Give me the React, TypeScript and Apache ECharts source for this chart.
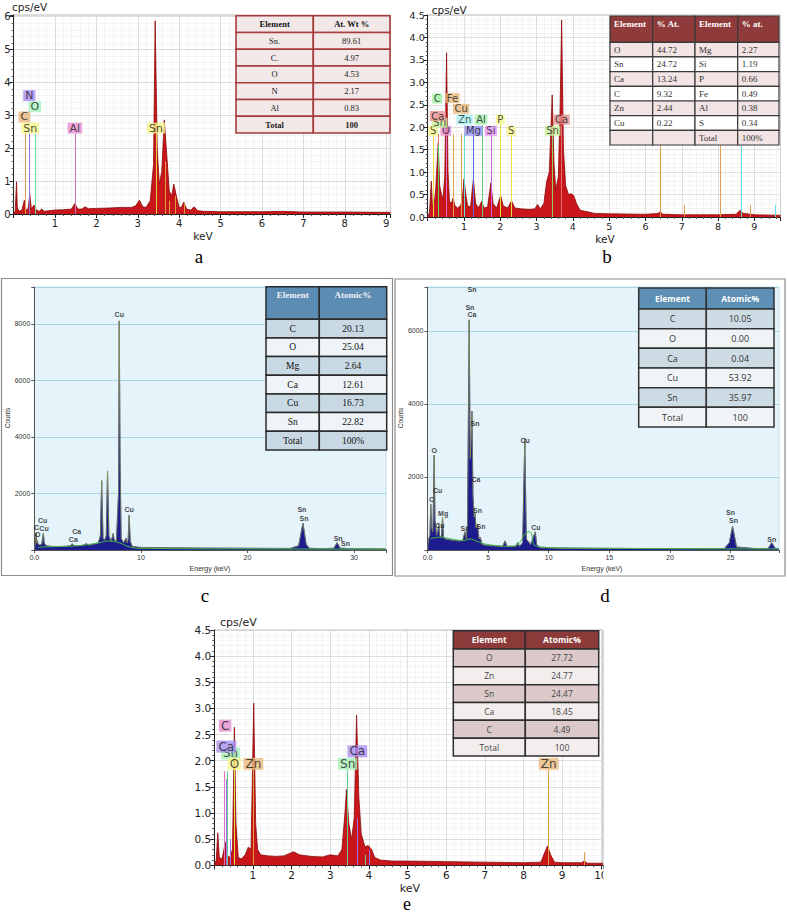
import React, { useEffect, useRef } from 'react';
import * as echarts from 'echarts';

// ---------------- Panel a (cps/eV vs keV) ----------------
const specA: [number, number][] = [
  [0, 0], [0.04, 0.1], [0.07, 0.98], [0.09, 0.2], [0.13, 0.08], [0.2, 0.12], [0.26, 0.42], [0.3, 0.12],
  [0.35, 0.15], [0.39, 0.6], [0.43, 0.15], [0.49, 0.27], [0.55, 0.12], [0.62, 0.08], [0.68, 0.15], [0.74, 0.08],
  [0.85, 0.1], [1.0, 0.12], [1.2, 0.13], [1.4, 0.15], [1.48, 0.32], [1.55, 0.15], [1.65, 0.15], [1.73, 0.22],
  [1.8, 0.16], [2.0, 0.17], [2.3, 0.18], [2.6, 0.2], [2.85, 0.2], [2.95, 0.25], [3.04, 0.42], [3.12, 0.22],
  [3.2, 0.2], [3.3, 0.4], [3.38, 1.5], [3.42, 5.87], [3.47, 2.0], [3.52, 0.9], [3.58, 1.3], [3.64, 2.86],
  [3.7, 1.8], [3.76, 0.7], [3.82, 0.55], [3.87, 0.91], [3.94, 0.5], [4.0, 0.2], [4.05, 0.2], [4.11, 0.36],
  [4.18, 0.15], [4.28, 0.12], [4.36, 0.22], [4.45, 0.1], [4.6, 0.08], [5.0, 0.07], [6.0, 0.07], [6.5, 0.08],
  [7.0, 0.06], [8.0, 0.06], [9.1, 0.05],
];
const markA: [string, number, number][] = [
  ['C', 0.27, 2.45], ['N', 0.39, 2.45], ['O', 0.52, 2.45], ['Al', 1.49, 2.45], ['Sn', 3.44, 2.45],
  ['SnL', 3.66, 1.6], ['SnL', 3.75, 0.4], ['SnL', 3.9, 0.55], ['SnL', 4.13, 0.3],
];
const labelsA: [string, number, number][] = [
  ['N', 0.38, 3.6], ['O', 0.51, 3.26], ['C', 0.26, 2.95], ['Sn', 0.4, 2.61], ['Al', 1.48, 2.61], ['Sn', 3.44, 2.61],
];
const tableAHeader = ['Element', 'At. Wt %'];
const tableAElements = ['Sn.', 'C.', 'O', 'N', 'Al', 'Total'];
const tableAValues = ['89.61', '4.97', '4.53', '2.17', '0.83', '100'];

// ---------------- Panel b ----------------
const specB: [number, number][] = [
  [0, 0], [0.05, 0.1], [0.1, 0.8], [0.13, 0.25], [0.18, 0.3], [0.22, 0.6], [0.26, 1.2], [0.29, 1.65],
  [0.33, 0.7], [0.38, 0.5], [0.42, 0.4], [0.47, 0.9], [0.52, 3.66], [0.56, 1.0], [0.6, 0.35], [0.65, 0.3],
  [0.7, 0.42], [0.75, 0.25], [0.82, 0.2], [0.9, 0.25], [0.95, 0.35], [1.0, 0.85], [1.05, 0.5], [1.1, 0.25],
  [1.18, 0.22], [1.26, 0.85], [1.32, 0.3], [1.4, 0.2], [1.49, 0.35], [1.55, 0.2], [1.65, 0.22], [1.74, 0.76],
  [1.8, 0.3], [1.9, 0.2], [2.01, 0.48], [2.08, 0.25], [2.2, 0.2], [2.31, 0.36], [2.4, 0.2], [2.6, 0.18],
  [2.8, 0.17], [2.95, 0.18], [3.03, 0.28], [3.1, 0.18], [3.2, 0.3], [3.28, 0.8], [3.35, 1.0], [3.43, 2.72],
  [3.48, 1.2], [3.53, 0.6], [3.6, 0.9], [3.65, 2.5], [3.69, 4.39], [3.74, 1.5], [3.8, 0.7], [3.88, 0.5],
  [3.95, 0.52], [4.02, 0.48], [4.1, 0.3], [4.2, 0.15], [4.38, 0.12], [4.6, 0.08], [5.0, 0.07], [6.0, 0.06],
  [6.35, 0.08], [6.4, 0.12], [6.48, 0.06], [7.0, 0.05], [8.0, 0.05], [8.5, 0.06], [8.6, 0.15], [8.7, 0.08],
  [9.0, 0.05], [9.72, 0.04],
];
const markB: [string, number, number][] = [
  ['S', 0.15, 1.85], ['Ca', 0.3, 1.85], ['C', 0.28, 1.6], ['O', 0.52, 1.85], ['Fe', 0.71, 1.85],
  ['Cu', 0.93, 1.85], ['Zn', 1.01, 1.85], ['Mg', 1.25, 1.85], ['Al', 1.49, 2.05], ['Si', 1.74, 1.85],
  ['P', 2.01, 2.05], ['S', 2.31, 1.85], ['Sn', 3.44, 1.85], ['Ca', 3.69, 2.05], ['Fe', 6.4, 1.9],
  ['Fe', 7.06, 0.27], ['Cu', 8.05, 1.9], ['Zn', 8.63, 1.9], ['Cu', 8.9, 0.27], ['Zn', 9.57, 0.27],
];
const labelsB: [string, number, number][] = [
  ['S', 0.15, 1.92], ['O', 0.5, 1.92], ['Sn', 0.33, 2.1], ['Ca', 0.28, 2.25], ['C', 0.26, 2.64],
  ['Fe', 0.68, 2.65], ['Cu', 0.92, 2.41], ['Zn', 1.02, 2.17], ['Al', 1.47, 2.17], ['P', 2.0, 2.17],
  ['Mg', 1.26, 1.92], ['Si', 1.74, 1.92], ['S', 2.3, 1.92], ['Sn', 3.44, 1.92], ['Ca', 3.69, 2.17],
];
const tableBHeader = ['Element', '% At.', 'Element', '% at.'];
const tableBElements1 = ['O', 'Sn', 'Ca', 'C', 'Zn', 'Cu', ''];
const tableBValues1 = ['44.72', '24.72', '13.24', '9.32', '2.44', '0.22', ''];
const tableBElements2 = ['Mg', 'Si', 'P', 'Fe', 'Al', 'S', 'Total'];
const tableBValues2 = ['2.27', '1.19', '0.66', '0.49', '0.38', '0.34', '100%'];

// ---------------- Panel c (Counts vs Energy) ----------------
const specC: [number, number][] = [
  [0, 0], [0.1, 200], [0.16, 600], [0.22, 250], [0.28, 350], [0.35, 200], [0.5, 180], [0.7, 200],
  [0.85, 600], [0.93, 250], [1.1, 150], [1.5, 130], [2.0, 120], [3.0, 130], [3.4, 150], [3.55, 220],
  [3.7, 160], [4.0, 150], [4.5, 160], [4.9, 220], [5.1, 170], [5.5, 200], [6.0, 250], [6.2, 500],
  [6.32, 2450], [6.45, 400], [6.6, 350], [6.75, 500], [6.87, 2780], [7.0, 500], [7.2, 300], [7.4, 580],
  [7.5, 350], [7.7, 300], [7.9, 2000], [7.97, 8100], [8.05, 3000], [8.15, 400], [8.4, 250], [8.6, 420],
  [8.7, 250], [8.8, 350], [8.9, 1230], [9.0, 300], [9.2, 120], [10, 90], [12, 80], [15, 70], [20, 60],
  [24, 55], [24.8, 150], [25.2, 950], [25.5, 200], [25.8, 60], [27, 50], [28.1, 60], [28.4, 260],
  [28.7, 60], [29.1, 60], [29.2, 40], [30, 40], [33, 35],
];
const bkgC: [number, number][] = [
  [0.3, 60], [0.5, 100], [2, 120], [4, 150], [6, 250], [7, 320], [8, 250], [9, 100], [10, 60], [20, 40], [33, 30],
];
const labelsC: [string, number, number][] = [
  ['Cu', 7.97, 8318], ['Cu', 8.9, 1416], ['Cu', 0.79, 1060], ['C', 0.22, 800], ['Cu', 0.91, 770],
  ['O', 0.31, 555], ['Ca', 3.98, 650], ['Ca', 3.66, 354], ['Sn', 25.1, 1416], ['Sn', 25.3, 1120],
  ['Sn', 28.5, 413], ['Sn', 29.2, 236],
];
const tableCHeader = ['Element', 'Atomic%'];
const tableCElements = ['C', 'O', 'Mg', 'Ca', 'Cu', 'Sn', 'Total'];
const tableCValues = ['20.13', '25.04', '2.64', '12.61', '16.73', '22.82', '100%'];

// ---------------- Panel d ----------------
const specD: [number, number][] = [
  [0, 0], [0.1, 300], [0.2, 400], [0.27, 1250], [0.35, 600], [0.45, 500], [0.55, 2600], [0.62, 800],
  [0.75, 400], [0.85, 500], [0.93, 700], [1.0, 400], [1.15, 350], [1.24, 900], [1.32, 350], [1.5, 300],
  [2.0, 270], [2.5, 250], [2.9, 250], [3.09, 500], [3.2, 300], [3.3, 700], [3.44, 6300], [3.52, 2500],
  [3.6, 3000], [3.67, 3800], [3.75, 1500], [3.85, 900], [3.92, 1000], [4.0, 600], [4.13, 700], [4.25, 300],
  [4.35, 350], [4.5, 150], [5, 120], [6.2, 100], [6.4, 250], [6.55, 100], [7.3, 100], [7.43, 200],
  [7.6, 100], [7.85, 200], [8.03, 3050], [8.15, 300], [8.5, 150], [8.9, 500], [9.0, 150], [9.3, 60],
  [12, 50], [18, 40], [24.5, 40], [24.9, 200], [25.17, 650], [25.5, 80], [27, 40], [28.1, 40],
  [28.4, 200], [28.7, 40], [29, 30],
];
const bkgD: [number, number][] = [
  [0.2, 300], [1, 350], [2, 300], [3, 260], [3.5, 300], [4, 250], [5, 150], [7, 100], [8.4, 500], [9, 100], [12, 50], [29, 30],
];
const labelsD: [string, number, number][] = [
  ['Sn', 3.67, 7120], ['Sn', 3.5, 6650], ['Ca', 3.67, 6440], ['Sn', 3.92, 3470], ['Ca', 4.0, 1920],
  ['Sn', 4.13, 1080], ['Sn', 4.41, 640], ['Sn', 3.09, 594], ['O', 0.55, 2720], ['Cu', 0.83, 1640],
  ['C', 0.33, 1390], ['Mg', 1.29, 1005], ['Cu', 1.02, 658], ['Cu', 8.05, 2986], ['Cu', 8.94, 620],
  ['Sn', 25.0, 1020], ['Sn', 25.24, 800], ['Sn', 28.4, 293],
];
const tableDHeader = ['Element', 'Atomic%'];
const tableDElements = ['C', 'O', 'Ca', 'Cu', 'Sn', 'Total'];
const tableDValues = ['10.05', '0.00', '0.04', '53.92', '35.97', '100'];

// ---------------- Panel e ----------------
const specE: [number, number][] = [
  [0, 0], [0.05, 0.1], [0.09, 0.62], [0.13, 0.15], [0.2, 0.12], [0.25, 0.3], [0.28, 0.45], [0.32, 0.2],
  [0.4, 0.15], [0.47, 0.3], [0.52, 2.64], [0.56, 0.8], [0.62, 0.15], [0.7, 0.12], [0.8, 0.2], [0.88, 0.35],
  [0.95, 0.3], [1.02, 3.1], [1.07, 0.8], [1.12, 0.3], [1.2, 0.2], [1.4, 0.18], [1.6, 0.17], [1.8, 0.18],
  [2.05, 0.26], [2.2, 0.2], [2.5, 0.17], [2.8, 0.16], [3.0, 0.2], [3.2, 0.18], [3.3, 0.3], [3.38, 1.0],
  [3.42, 1.45], [3.48, 0.8], [3.55, 0.5], [3.62, 0.9], [3.68, 2.87], [3.74, 1.3], [3.8, 0.6], [3.9, 0.35],
  [3.98, 0.38], [4.07, 0.3], [4.15, 0.15], [4.3, 0.1], [4.6, 0.08], [5, 0.08], [6, 0.07], [7, 0.06],
  [8, 0.05], [8.45, 0.06], [8.55, 0.25], [8.62, 0.37], [8.7, 0.2], [8.8, 0.06], [9, 0.05], [9.5, 0.05],
  [9.57, 0.08], [9.65, 0.04], [10.05, 0.04],
];
const markE: [string, number, number][] = [
  ['C', 0.27, 1.8], ['Ca', 0.3, 1.65], ['Sn', 0.34, 1.8], ['Ca', 0.41, 0.5], ['O', 0.52, 1.85],
  ['Zn', 1.01, 1.85], ['Sn', 3.44, 1.85], ['Ca', 3.69, 0.9], ['Sn', 3.9, 0.2], ['Ca', 4.01, 0.3],
  ['Zn', 8.64, 1.85], ['Zn', 9.57, 0.25],
];
const labelsE: [string, number, number][] = [
  ['C', 0.28, 2.67], ['Sn', 0.42, 2.14], ['Ca', 0.31, 2.27], ['O', 0.52, 1.94], ['Zn', 1.01, 1.94],
  ['Sn', 3.45, 1.94], ['Ca', 3.7, 2.18], ['Zn', 8.65, 1.94],
];
const tableEHeader = ['Element', 'Atomic%'];
const tableEElements = ['O', 'Zn', 'Sn', 'Ca', 'C', 'Total'];
const tableEValues = ['27.72', '24.77', '24.47', '18.45', '4.49', '100'];

// ---------------- styles ----------------
const SANS = '"DejaVu Sans", Verdana, sans-serif';
const NARROW = '"Liberation Sans Narrow", "Liberation Sans", Arial, sans-serif';
const SERIF = '"Liberation Serif", "Times New Roman", serif';
const OPEN = '"Open Sans", "Noto Sans", sans-serif';

const lineColA: Record<string, string> = { C: '#e0a050', N: '#9a70e8', O: '#70e0a0', Al: '#d070c0', Sn: '#e8d040', SnL: '#e09a40' };
const boxColA: Record<string, string> = { C: '#e8b67e', N: '#a98df2', O: '#a3f2bf', Sn: '#f7f78c', Al: '#e690d0' };
const lineColB: Record<string, string> = {
  S: '#e8e040', Ca: '#e07070', O: '#e070c0', C: '#60d060', Fe: '#e0a050', Cu: '#e0a050', Zn: '#60e0e0',
  Mg: '#6060e0', Al: '#60d080', Si: '#d060e0', P: '#e8e040', Sn: '#90d060',
};
const boxColB: Record<string, string> = {
  S: '#f7f78c', O: '#ea90d0', Ca: '#e89090', Sn: '#c8f29c', C: '#a0f2a0', Fe: '#ebba80', Cu: '#ebba80',
  Zn: '#a8f2f2', Al: '#a8f2b0', P: '#f7f78c', Mg: '#9090f2', Si: '#e290f2',
};
const lineColE: Record<string, string> = { C: '#e070c0', Ca: '#9a70e8', Sn: '#60d090', O: '#e8e040', Zn: '#e0a040' };
const boxColE: Record<string, string> = { C: '#e690d0', Ca: '#a98df2', Sn: '#a8f2b8', O: '#f7f78c', Zn: '#ebba80' };

function cpsXAxis(grid: number, max: number, fs: number) {
  return {
    type: 'value', gridIndex: grid, min: 0, max, interval: 1,
    axisLine: { show: true, onZero: false, lineStyle: { color: '#222', width: 1 } },
    axisTick: { show: true, length: 4, lineStyle: { color: '#222' } },
    minorTick: { show: true, splitNumber: 5, length: 2, lineStyle: { color: '#555' } },
    axisLabel: {
      fontFamily: SANS, fontSize: fs, color: '#222', margin: 4,
      formatter: (v: number) => (Number.isInteger(v) && v !== 0 ? String(v) : ''),
    },
    splitLine: { show: true, lineStyle: { color: '#d4d4d4', width: 0.8 } },
    minorSplitLine: { show: true, lineStyle: { color: '#ececec', width: 0.6 } },
  };
}
function cpsYAxis(grid: number, max: number, interval: number, fs: number, digits: number) {
  return {
    type: 'value', gridIndex: grid, min: 0, max, interval,
    axisLine: { show: true, onZero: false, lineStyle: { color: '#222', width: 1 } },
    axisTick: { show: true, length: 4, lineStyle: { color: '#222' } },
    minorTick: { show: true, splitNumber: 5, length: 2, lineStyle: { color: '#555' } },
    axisLabel: {
      fontFamily: SANS, fontSize: fs, color: '#222', margin: 3,
      formatter: (v: number) => (Math.abs(v / interval - Math.round(v / interval)) < 1e-6 ? v.toFixed(digits) : ''),
    },
    splitLine: { show: true, lineStyle: { color: '#d4d4d4', width: 0.8 } },
    minorSplitLine: { show: true, lineStyle: { color: '#ececec', width: 0.6 } },
  };
}
function cntXAxis(grid: number, max: number, interval: number) {
  return {
    type: 'value', gridIndex: grid, min: 0, max, interval,
    axisLine: { show: true, onZero: false, lineStyle: { color: '#555', width: 1 } },
    axisTick: { show: true, length: 3, lineStyle: { color: '#555' } },
    axisLabel: {
      fontFamily: NARROW, fontSize: 7, color: '#333', margin: 4,
      formatter: (v: number) => (v === 0 ? '0.0' : v % interval === 0 ? String(v) : ''),
    },
    splitLine: { show: false },
  };
}
function cntYAxis(grid: number, max: number) {
  return {
    type: 'value', gridIndex: grid, min: 0, max, interval: 2000,
    axisLine: { show: true, onZero: false, lineStyle: { color: '#555', width: 1 } },
    axisTick: { show: true, length: 3, lineStyle: { color: '#555' } },
    axisLabel: {
      fontFamily: NARROW, fontSize: 7, color: '#333', margin: 4,
      formatter: (v: number) => (v !== 0 && v % 2000 === 0 ? String(v) : ''),
    },
    splitLine: { show: true, lineStyle: { color: '#a9d6e6', width: 1.2 } },
  };
}

function spectrum(idx: number, data: [number, number][], line: string, fill: string, width = 0.8) {
  return {
    type: 'line', xAxisIndex: idx, yAxisIndex: idx, data, symbol: 'none', showSymbol: false,
    lineStyle: { color: line, width }, areaStyle: { color: fill, opacity: 1 }, z: 2, silent: true,
  };
}
function outline(idx: number, data: [number, number][], color: string) {
  return {
    type: 'line', xAxisIndex: idx, yAxisIndex: idx, data, symbol: 'none', showSymbol: false,
    lineStyle: { color, width: 0.6, opacity: 0.85 }, z: 3, silent: true,
  };
}
function markerLines(idx: number, marks: [string, number, number][], cols: Record<string, string>) {
  return {
    type: 'lines', coordinateSystem: 'cartesian2d', xAxisIndex: idx, yAxisIndex: idx, silent: true, z: 3,
    lineStyle: { width: 1, opacity: 1, curveness: 0 },
    data: marks.map(([el, e, h]) => ({ coords: [[e, 0], [e, h]], lineStyle: { color: cols[el], width: 1, opacity: 1 } })),
  };
}
function boxLabels(idx: number, labels: [string, number, number][], cols: Record<string, string>, fs: number, pad: number) {
  return {
    type: 'scatter', xAxisIndex: idx, yAxisIndex: idx, symbolSize: 1, silent: true, z: 6,
    itemStyle: { color: 'rgba(0,0,0,0)' },
    label: {
      show: true, position: 'inside', formatter: '{b}', fontFamily: SANS, fontSize: fs, color: '#1a1a1a',
      lineHeight: fs, padding: [0, pad, 0, pad],
    },
    data: labels.map(([t, x, y]) => ({ name: t, value: [x, y], label: { backgroundColor: cols[t] } })),
  };
}
function textLabels(idx: number, labels: [string, number, number][]) {
  return {
    type: 'scatter', xAxisIndex: idx, yAxisIndex: idx, symbolSize: 1, silent: true, z: 6,
    itemStyle: { color: 'rgba(0,0,0,0)' },
    label: { show: true, position: 'inside', formatter: '{b}', fontFamily: NARROW, fontSize: 7, fontWeight: 'bold', color: '#111' },
    data: labels.map(([t, x, y]) => ({ name: t, value: [x, y] })),
  };
}

interface TableSpec {
  cols: number[]; top: number; headerH: number; rowH: number;
  header: string[]; columns: string[][];
  headerFill: string; headerColor: string; headerFont: string; headerSize: number; headerWeight: string;
  headerTop?: boolean;
  fills: string[]; border: string; bw: number;
  font: string; size: number; color: string; align: 'left' | 'center';
  boldLast?: boolean;
}
function buildTable(t: TableSpec) {
  const els: any[] = [];
  const nCol = t.cols.length - 1;
  const nRow = t.columns[0].length;
  for (let c = 0; c < nCol; c++) {
    const x = t.cols[c];
    const w = t.cols[c + 1] - x;
    els.push({
      type: 'rect', z: 50, silent: true,
      shape: { x, y: t.top, width: w, height: t.headerH },
      style: { fill: t.headerFill, stroke: t.border, lineWidth: t.bw },
    });
    els.push({
      type: 'text', z: 51, silent: true,
      style: {
        text: t.header[c], x: t.align === 'left' ? x + 4 : x + w / 2,
        y: t.headerTop ? t.top + 8 : t.top + t.headerH / 2,
        fill: t.headerColor, fontFamily: t.headerFont, fontSize: t.headerSize, fontWeight: t.headerWeight,
        align: t.align, verticalAlign: 'middle',
      },
    });
    for (let r = 0; r < nRow; r++) {
      const y = t.top + t.headerH + r * t.rowH;
      els.push({
        type: 'rect', z: 50, silent: true,
        shape: { x, y, width: w, height: t.rowH },
        style: { fill: t.fills[r % t.fills.length], stroke: t.border, lineWidth: t.bw },
      });
      els.push({
        type: 'text', z: 51, silent: true,
        style: {
          text: t.columns[c][r], x: t.align === 'left' ? x + 4 : x + w / 2, y: y + t.rowH / 2,
          fill: t.color, fontFamily: t.font, fontSize: t.size,
          fontWeight: t.boldLast && r === nRow - 1 ? 'bold' : 'normal',
          align: t.align, verticalAlign: 'middle',
        },
      });
    }
  }
  return els;
}

function txt(text: string, x: number, y: number, size: number, family: string, extra: any = {}) {
  return {
    type: 'text', z: 60, silent: true, rotation: extra.rotation || 0, x, y,
    style: {
      text, x: 0, y: 0, fontSize: size, fontFamily: family, fill: extra.fill || '#222',
      align: extra.align || 'center', verticalAlign: 'middle', fontWeight: extra.weight || 'normal',
    },
  };
}

export default function App() {
  const ref = useRef<HTMLDivElement>(null);
  useEffect(() => {
    if (!ref.current) return;
    const chart = echarts.init(ref.current, null, { renderer: 'svg' });
    const frameGrid = { show: true, backgroundColor: '#ffffff', borderColor: '#b8b8b8', borderWidth: 1 };
    const blueGrid = { show: true, backgroundColor: '#e5f3fa', borderColor: '#b9d6e2', borderWidth: 0.8 };
    const graphics: any[] = [
      { type: 'rect', z: 1, silent: true, shape: { x: 1.5, y: 278.5, width: 391, height: 297 }, style: { fill: 'none', stroke: '#8c8c8c', lineWidth: 1.2 } },
      { type: 'rect', z: 1, silent: true, shape: { x: 395, y: 279, width: 390, height: 297 }, style: { fill: 'none', stroke: '#8c8c8c', lineWidth: 1.2 } },
      ...buildTable({
        cols: [236, 313.3, 390], top: 15.7, headerH: 16.76, rowH: 16.76,
        header: tableAHeader, columns: [tableAElements, tableAValues],
        headerFill: '#f2e8e8', headerColor: '#111', headerFont: SERIF, headerSize: 8.5, headerWeight: 'bold',
        fills: ['#f2e8e8'], border: '#a63a3a', bw: 1.6, font: SERIF, size: 8.5, color: '#222', align: 'center', boldLast: true,
      }),
      ...buildTable({
        cols: [610, 652.7, 695, 737.7, 779], top: 16, headerH: 26.3, rowH: 14.67,
        header: tableBHeader, columns: [tableBElements1, tableBValues1, tableBElements2, tableBValues2],
        headerFill: '#8f3b3b', headerColor: '#ffffff', headerFont: SERIF, headerSize: 9, headerWeight: 'bold', headerTop: true,
        fills: ['#f2e4e4', '#ffffff'], border: '#3a3a3a', bw: 1.2, font: SERIF, size: 9, color: '#333', align: 'left',
      }),
      ...buildTable({
        cols: [266, 319.3, 386.7], top: 286.7, headerH: 32.6, rowH: 18.66,
        header: tableCHeader, columns: [tableCElements, tableCValues],
        headerFill: '#5d8cb2', headerColor: '#eef2f8', headerFont: SERIF, headerSize: 9, headerWeight: 'bold', headerTop: true,
        fills: ['#c9d9e4', '#eef4f8'], border: '#2b2b2b', bw: 1.5, font: SERIF, size: 9.5, color: '#111', align: 'center',
      }),
      ...buildTable({
        cols: [638.7, 706.3, 774], top: 288, headerH: 21, rowH: 19.67,
        header: tableDHeader, columns: [tableDElements, tableDValues],
        headerFill: '#5e8fb4', headerColor: '#ffffff', headerFont: OPEN, headerSize: 8.5, headerWeight: 'bold',
        fills: ['#cddbe4', '#f0f4f7'], border: '#333333', bw: 1.5, font: OPEN, size: 9, color: '#333', align: 'center',
      }),
      ...buildTable({
        cols: [453.3, 525.3, 598.7], top: 630.7, headerH: 18.3, rowH: 17.83,
        header: tableEHeader, columns: [tableEElements, tableEValues],
        headerFill: '#8c3a3a', headerColor: '#ffffff', headerFont: OPEN, headerSize: 8.5, headerWeight: 'bold',
        fills: ['#dccacb', '#f4eded'], border: '#2e2e2e', bw: 1.5, font: OPEN, size: 8.5, color: '#444', align: 'center',
      }),
      txt('cps/eV', 12, 7, 10.5, SANS, { align: 'left' }),
      txt('keV', 203, 236, 10.5, SANS),
      txt('cps/eV', 431.7, 10, 10.5, SANS, { align: 'left' }),
      txt('keV', 605, 239, 10.5, SANS),
      txt('cps/eV', 220, 622, 11, SANS, { align: 'left' }),
      txt('keV', 410, 888, 11, SANS),
      txt('Counts', 7, 418, 6.5, NARROW, { rotation: Math.PI / 2, fill: '#333' }),
      txt('Energy (keV)', 210, 568, 7, NARROW, { fill: '#333' }),
      txt('Counts', 400.3, 418, 6.5, NARROW, { rotation: Math.PI / 2, fill: '#333' }),
      txt('Energy (keV)', 602, 568, 7, NARROW, { fill: '#333' }),
      txt('a', 199, 256, 19, SERIF, { fill: '#000' }),
      txt('b', 607, 256, 19, SERIF, { fill: '#000' }),
      txt('c', 205, 595, 19, SERIF, { fill: '#000' }),
      txt('d', 605, 595, 19, SERIF, { fill: '#000' }),
      txt('e', 407, 904, 18, SERIF, { fill: '#000' }),
      { type: 'rect', z: 70, silent: true, shape: { x: 603.5, y: 866, width: 20, height: 20 }, style: { fill: '#ffffff' } },
    ];

    chart.setOption({
      animation: false,
      backgroundColor: '#ffffff',
      grid: [
        { left: 13.6, top: 15, width: 376.7, height: 199, ...frameGrid },
        { left: 427.7, top: 15, width: 352.8, height: 202, ...frameGrid },
        { left: 34.3, top: 287, width: 351.8, height: 263, ...blueGrid },
        { left: 427.5, top: 287, width: 351.5, height: 263, ...blueGrid },
        { left: 214.3, top: 630, width: 388.5, height: 235.3, ...frameGrid },
      ],
      xAxis: [
        cpsXAxis(0, 9.1, 10),
        cpsXAxis(1, 9.72, 9.5),
        cntXAxis(2, 33, 10),
        cntXAxis(3, 29, 5),
        cpsXAxis(4, 10.05, 10.5),
      ],
      yAxis: [
        cpsYAxis(0, 6.05, 1, 10, 0),
        cpsYAxis(1, 4.5, 0.5, 9.5, 1),
        cntYAxis(2, 9300),
        cntYAxis(3, 7200),
        cpsYAxis(4, 4.5, 0.5, 10.5, 1),
      ],
      series: [
        spectrum(0, specA, '#8c0a0a', '#c8161b'),
        markerLines(0, markA, lineColA),
        boxLabels(0, labelsA, boxColA, 11, 2),
        spectrum(1, specB, '#8c0a0a', '#c8161b'),
        markerLines(1, markB, lineColB),
        boxLabels(1, labelsB, boxColB, 10, 1.5),
        spectrum(2, specC, '#1c1c8e', '#1c1c8e', 1),
        outline(2, specC, '#b8c436'),
        { type: 'line', xAxisIndex: 2, yAxisIndex: 2, data: bkgC, symbol: 'none', lineStyle: { color: '#44b64c', width: 1 }, z: 3, silent: true, smooth: true },
        textLabels(2, labelsC),
        spectrum(3, specD, '#1c1c8e', '#1c1c8e', 1),
        outline(3, specD, '#b8c436'),
        { type: 'line', xAxisIndex: 3, yAxisIndex: 3, data: bkgD, symbol: 'none', lineStyle: { color: '#44b64c', width: 1 }, z: 3, silent: true, smooth: true },
        textLabels(3, labelsD),
        spectrum(4, specE, '#8c0a0a', '#c8161b'),
        markerLines(4, markE, lineColE),
        boxLabels(4, labelsE, boxColE, 12, 2),
      ],
      graphic: graphics,
    });
    return () => chart.dispose();
  }, []);
  return (
    <div
      ref={ref}
      style={{ position: 'absolute', left: 0, top: 0, width: 787, height: 913, background: '#ffffff' }}
    />
  );
}
